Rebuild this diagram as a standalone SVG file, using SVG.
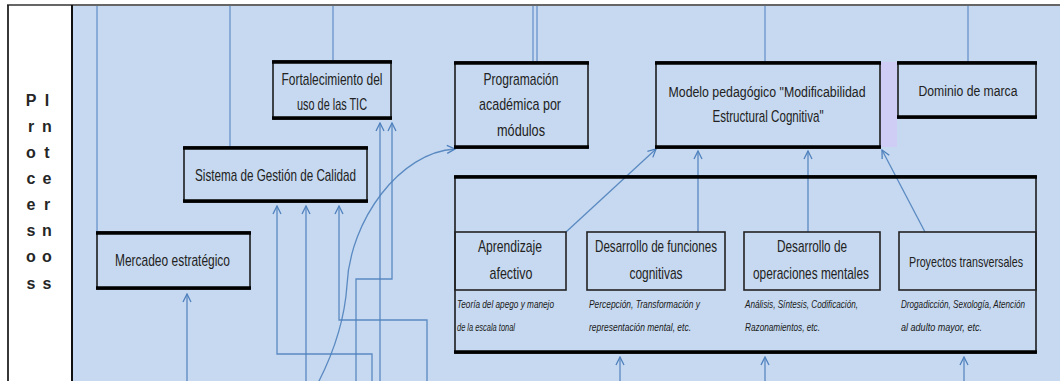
<svg xmlns="http://www.w3.org/2000/svg" width="1060" height="381" viewBox="0 0 1060 381">
  <defs>
    <style>
      .bx { fill: none; stroke: #111; stroke-width: 1.5; }
      .thick { stroke: #000; stroke-width: 3.4; }
      .ib { fill: none; stroke: #222; stroke-width: 1.6; }
      .lbl { font-family: "Liberation Sans Narrow", "Liberation Sans", Arial, sans-serif; font-size: 17px; fill: #222; text-anchor: middle; }
      .sm { font-size: 15.5px; }
      .xs { font-size: 14.5px; }
      .note { font-family: "Liberation Sans Narrow", "Liberation Sans", Arial, sans-serif; font-size: 11px; font-style: italic; fill: #1a1a1a; }
      .nsm { font-size: 10.5px; }
      .side { font-family: "Liberation Sans Narrow", "Liberation Sans", Arial, sans-serif; font-size: 16px; font-weight: bold; fill: #262626; text-anchor: middle; }
      .cn { fill: none; stroke: #4f81bd; stroke-width: 1.3; stroke-opacity: 0.9; }
      .top { fill: none; stroke: #5f8cc6; stroke-width: 1.2; }
    </style>
    <marker id="ah" viewBox="0 0 10 10" refX="9" refY="5" markerWidth="10" markerHeight="10" orient="auto" markerUnits="userSpaceOnUse">
      <path d="M1,1 L9,5 L1,9" fill="none" stroke="#4f81bd" stroke-width="1.3"/>
    </marker>
  </defs>

  <!-- page frame -->
  <rect x="0" y="0" width="1060" height="381" fill="#ffffff"/>
  <rect x="73" y="6" width="987" height="375" fill="#c6d9f0"/>
  <line x1="7" y1="5" x2="1060" y2="5" stroke="#333" stroke-width="1.6"/>
  <line x1="8" y1="5" x2="8" y2="381" stroke="#222" stroke-width="1.8"/>
  <line x1="72" y1="5" x2="72" y2="381" stroke="#111" stroke-width="2"/>

  <!-- side heading, two interleaved vertical words -->
  <g id="side-heading">
    <text class="side" x="31" y="106">P</text><text class="side" x="47" y="106">I</text>
    <text class="side" x="31" y="132">r</text><text class="side" x="47" y="132">n</text>
    <text class="side" x="31" y="158">o</text><text class="side" x="47" y="158">t</text>
    <text class="side" x="31" y="184">c</text><text class="side" x="47" y="184">e</text>
    <text class="side" x="31" y="210">e</text><text class="side" x="47" y="210">r</text>
    <text class="side" x="31" y="236">s</text><text class="side" x="47" y="236">n</text>
    <text class="side" x="31" y="262">o</text><text class="side" x="47" y="262">o</text>
    <text class="side" x="31" y="289">s</text><text class="side" x="47" y="289">s</text>
  </g>

  <!-- connectors -->
  <g id="connectors">
    <!-- lines entering from above -->
    <path class="top" d="M97,6 V232"/>
    <path class="top" d="M230,6 V147"/>
    <path class="top" d="M333,6 V61"/>
    <path class="top" d="M533,6 V62"/>
    <path class="top" d="M537,6 V62"/>
    <path class="top" d="M765,6 V62"/>
    <path class="top" d="M968,6 V62"/>
    <!-- into Sistema de Gestión de Calidad -->
    <path class="cn" d="M372,381 V354 H277 V206" marker-end="url(#ah)"/>
    <path class="cn" d="M306,381 V206" marker-end="url(#ah)"/>
    <path class="cn" d="M427,381 V320 H339 V206" marker-end="url(#ah)"/>
    <!-- into Fortalecimiento del uso de las TIC -->
    <path class="cn" d="M380,381 V123" marker-end="url(#ah)"/>
    <path class="cn" d="M356,381 V279 H392 V123" marker-end="url(#ah)"/>
    <!-- curved link into Programación -->
    <path class="cn" d="M318,383 C335,350 345,315 347,285 C350,220 400,152 455,149" marker-end="url(#ah)"/>
    <!-- into Mercadeo -->
    <path class="cn" d="M187,381 V294" marker-end="url(#ah)"/>
    <!-- into the lower container -->
    <path class="cn" d="M620,381 V357" marker-end="url(#ah)"/>
    <path class="cn" d="M765,381 V357" marker-end="url(#ah)"/>
    <path class="cn" d="M964,381 V357" marker-end="url(#ah)"/>
    <!-- into the pedagogical model -->
    <path class="cn" d="M566,232 L656,149" marker-end="url(#ah)"/>
    <path class="cn" d="M698,232 V151" marker-end="url(#ah)"/>
    <path class="cn" d="M808,232 V151" marker-end="url(#ah)"/>
    <path class="cn" d="M925,232 L882,150" marker-end="url(#ah)"/>
  </g>

  <g id="fortalecimiento">
    <rect class="bx" x="273" y="61" width="118" height="58"/>
    <line class="thick" x1="272" y1="62" x2="392" y2="62"/>
    <line class="thick" x1="272" y1="118" x2="392" y2="118"/>
    <text class="lbl" x="332" y="85" textLength="101" lengthAdjust="spacingAndGlyphs">Fortalecimiento del</text>
    <text class="lbl" x="332" y="110" textLength="70" lengthAdjust="spacingAndGlyphs">uso de las TIC</text>
  </g>

  <g id="sistema-calidad">
    <rect class="bx" x="184" y="147" width="183" height="55"/>
    <line class="thick" x1="183" y1="148" x2="368" y2="148"/>
    <line class="thick" x1="183" y1="201" x2="368" y2="201"/>
    <text class="lbl" x="275.5" y="181" textLength="161" lengthAdjust="spacingAndGlyphs">Sistema de Gestión de Calidad</text>
  </g>

  <g id="mercadeo">
    <rect class="bx" x="97" y="232" width="153" height="57"/>
    <line class="thick" x1="96" y1="233" x2="251" y2="233"/>
    <line class="thick" x1="96" y1="288" x2="251" y2="288"/>
    <text class="lbl" x="172.5" y="266" textLength="115" lengthAdjust="spacingAndGlyphs">Mercadeo estratégico</text>
  </g>

  <g id="programacion">
    <rect class="bx" x="455" y="62" width="133" height="86"/>
    <line class="thick" x1="454" y1="63" x2="589" y2="63"/>
    <line class="thick" x1="454" y1="147" x2="589" y2="147"/>
    <text class="lbl" x="521" y="85" textLength="75" lengthAdjust="spacingAndGlyphs">Programación</text>
    <text class="lbl" x="520" y="110" textLength="82" lengthAdjust="spacingAndGlyphs">académica por</text>
    <text class="lbl" x="521" y="136" textLength="48" lengthAdjust="spacingAndGlyphs">módulos</text>
  </g>

  <g id="modelo-pedagogico">
    <rect x="880" y="62" width="17" height="85" fill="#cfcdf6"/>
    <rect class="bx" x="656" y="62" width="224" height="86"/>
    <line class="thick" x1="655" y1="63" x2="881" y2="63"/>
    <line class="thick" x1="655" y1="147" x2="881" y2="147"/>
    <text class="lbl sm" x="767" y="97" textLength="197" lengthAdjust="spacingAndGlyphs">Modelo pedagógico "Modificabilidad</text>
    <text class="lbl" x="768" y="122" textLength="111" lengthAdjust="spacingAndGlyphs">Estructural Cognitiva"</text>
  </g>

  <g id="dominio-marca">
    <rect class="bx" x="898" y="62" width="138" height="56"/>
    <line class="thick" x1="897" y1="63" x2="1037" y2="63"/>
    <line class="thick" x1="897" y1="117" x2="1037" y2="117"/>
    <text class="lbl sm" x="968" y="96" textLength="99" lengthAdjust="spacingAndGlyphs">Dominio de marca</text>
  </g>

  <g id="contenedor-modelo">
    <rect class="bx" x="455" y="176" width="581" height="177"/>
    <line class="thick" x1="454" y1="177" x2="1037" y2="177"/>
    <line class="thick" x1="454" y1="352" x2="1037" y2="352"/>
  </g>

  <g id="aprendizaje-afectivo">
    <rect class="ib" x="455" y="232" width="111" height="58"/>
    <text class="lbl" x="510" y="252" textLength="64" lengthAdjust="spacingAndGlyphs">Aprendizaje</text>
    <text class="lbl" x="511" y="279" textLength="43" lengthAdjust="spacingAndGlyphs">afectivo</text>
    <text class="note" x="457" y="308" textLength="97" lengthAdjust="spacingAndGlyphs">Teoría del apego y manejo</text>
    <text class="note" x="457" y="331" textLength="58" lengthAdjust="spacingAndGlyphs">de la escala tonal</text>
  </g>

  <g id="funciones-cognitivas">
    <rect class="ib" x="587" y="232" width="138" height="58"/>
    <text class="lbl" x="656" y="252" textLength="122" lengthAdjust="spacingAndGlyphs">Desarrollo de funciones</text>
    <text class="lbl" x="656" y="279" textLength="53" lengthAdjust="spacingAndGlyphs">cognitivas</text>
    <text class="note" x="589" y="308" textLength="111" lengthAdjust="spacingAndGlyphs">Percepción, Transformación y</text>
    <text class="note" x="589" y="331" textLength="102" lengthAdjust="spacingAndGlyphs">representación mental, etc.</text>
  </g>

  <g id="operaciones-mentales">
    <rect class="ib" x="744" y="232" width="136" height="58"/>
    <text class="lbl" x="812" y="252" textLength="70" lengthAdjust="spacingAndGlyphs">Desarrollo de</text>
    <text class="lbl" x="811" y="279" textLength="116" lengthAdjust="spacingAndGlyphs">operaciones mentales</text>
    <text class="note" x="745" y="308" textLength="113" lengthAdjust="spacingAndGlyphs">Análisis, Síntesis, Codificación,</text>
    <text class="note" x="745" y="331" textLength="75" lengthAdjust="spacingAndGlyphs">Razonamientos, etc.</text>
  </g>

  <g id="proyectos-transversales">
    <rect class="ib" x="899" y="232" width="137" height="58"/>
    <text class="lbl xs" x="966" y="267" textLength="114" lengthAdjust="spacingAndGlyphs">Proyectos transversales</text>
    <text class="note nsm" x="901" y="308" textLength="124" lengthAdjust="spacingAndGlyphs">Drogadicción, Sexología, Atención</text>
    <text class="note" x="901" y="331" textLength="81" lengthAdjust="spacingAndGlyphs">al adulto mayor, etc.</text>
  </g>
</svg>
